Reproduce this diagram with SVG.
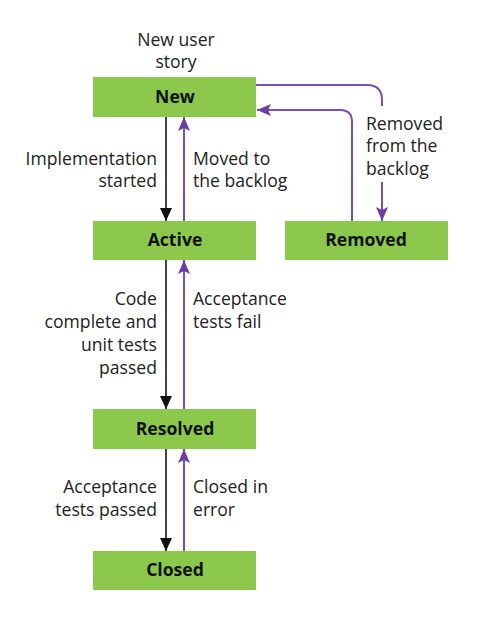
<svg xmlns="http://www.w3.org/2000/svg" width="482" height="617" viewBox="0 0 482 617">
<style>
.box{fill:#8cc84b}
.t{font-family:"Open Sans","Noto Sans",sans-serif;font-size:17.6px;fill:#222}
.b{font-family:"Open Sans","Noto Sans",sans-serif;font-size:17.6px;font-weight:bold;fill:#111;text-anchor:middle}
.r{text-anchor:end}
.k{fill:none;stroke:#444;stroke-width:2}
.p{fill:none;stroke:#7a4fb0;stroke-width:2}
</style>
<defs>
<marker id="ak" markerUnits="userSpaceOnUse" markerWidth="13" markerHeight="12" refX="13" refY="6" orient="auto"><path d="M0,0 L13,6 L0,12 z" fill="#111"/></marker>
<marker id="ap" markerUnits="userSpaceOnUse" markerWidth="14" markerHeight="12" refX="14" refY="6" orient="auto"><path d="M0,0 L14,6 L0,12 L3,6 z" fill="#6a3ea6"/></marker>
</defs>
<rect width="482" height="617" fill="#fff"/>
<g id="connectors">
<path class="k" d="M166,117 V221" marker-end="url(#ak)"/>
<path class="p" d="M184,221 V117" marker-end="url(#ap)"/>
<path class="k" d="M166,260 V409" marker-end="url(#ak)"/>
<path class="p" d="M184,409 V260" marker-end="url(#ap)"/>
<path class="k" d="M166,449 V551" marker-end="url(#ak)"/>
<path class="p" d="M184,551 V449" marker-end="url(#ap)"/>
<path class="p" d="M256,85 H367 Q382,85 382,100 V106"/>
<path class="p" d="M382,182 V221" marker-end="url(#ap)"/>
<path class="p" d="M352,221 V122 Q352,110 340,110 H257" marker-end="url(#ap)"/>
<text class="t" x="176" y="46" text-anchor="middle">New user</text>
<text class="t" x="176" y="68" text-anchor="middle">story</text>
<text class="t r" x="157" y="165">Implementation</text>
<text class="t r" x="157" y="187">started</text>
<text class="t" x="193" y="165">Moved to</text>
<text class="t" x="193" y="187">the backlog</text>
<text class="t" x="366" y="130">Removed</text>
<text class="t" x="366" y="152">from the</text>
<text class="t" x="366" y="175">backlog</text>
<text class="t r" x="157" y="305">Code</text>
<text class="t r" x="157" y="328">complete and</text>
<text class="t r" x="157" y="351">unit tests</text>
<text class="t r" x="157" y="374">passed</text>
<text class="t" x="193" y="305">Acceptance</text>
<text class="t" x="193" y="328">tests fail</text>
<text class="t r" x="157" y="493">Acceptance</text>
<text class="t r" x="157" y="516">tests passed</text>
<text class="t" x="193" y="493">Closed in</text>
<text class="t" x="193" y="516">error</text>
</g>
<g id="node-new"><rect class="box" x="93" y="77" width="163" height="40"/><text class="b" x="175" y="103">New</text></g>
<g id="node-active"><rect class="box" x="93" y="221" width="163" height="39"/><text class="b" x="175" y="246">Active</text></g>
<g id="node-removed"><rect class="box" x="285" y="221" width="163" height="39"/><text class="b" x="366" y="246">Removed</text></g>
<g id="node-resolved"><rect class="box" x="93" y="409" width="163" height="40"/><text class="b" x="175" y="435">Resolved</text></g>
<g id="node-closed"><rect class="box" x="93" y="551" width="163" height="39"/><text class="b" x="175" y="576">Closed</text></g>
</svg>
